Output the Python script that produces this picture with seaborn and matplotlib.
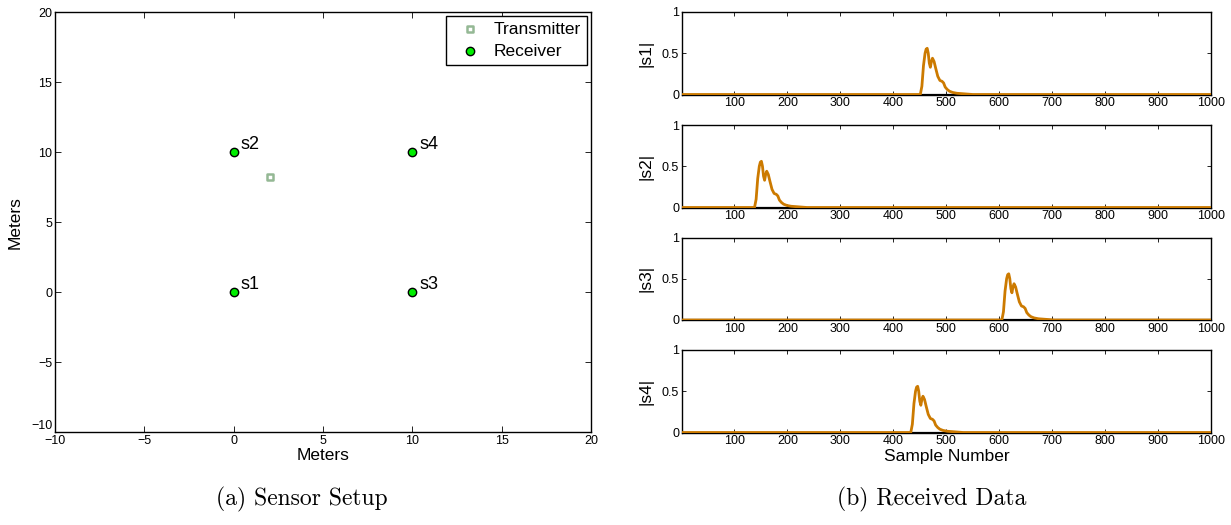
import matplotlib
matplotlib.use("Agg")
import matplotlib.pyplot as plt
import seaborn as sns
import pandas as pd

# ---- data ----
sensor_names = ["s1", "s2", "s3", "s4"]
sensor_x = [0, 0, 10, 10]
sensor_y = [0, 10, 0, 10]
tx_x = [2.05]
tx_y = [8.2]

s1_samples = [1, 451, 454, 457, 460, 462, 464, 466, 468, 470, 472, 474, 477, 480, 484, 488, 492, 495, 498, 502, 506, 512, 520, 530, 540, 550, 1000]
s1_values = [0, 0, 0.10, 0.35, 0.50, 0.55, 0.56, 0.50, 0.38, 0.33, 0.40, 0.44, 0.40, 0.32, 0.22, 0.17, 0.16, 0.14, 0.09, 0.06, 0.04, 0.025, 0.015, 0.01, 0.005, 0, 0]
s2_samples = [1, 138, 141, 144, 147, 149, 151, 153, 155, 157, 159, 161, 164, 167, 171, 175, 179, 182, 185, 189, 193, 199, 207, 217, 227, 237, 1000]
s2_values = [0, 0, 0.10, 0.35, 0.50, 0.55, 0.56, 0.50, 0.38, 0.33, 0.40, 0.44, 0.40, 0.32, 0.22, 0.17, 0.16, 0.14, 0.09, 0.06, 0.04, 0.025, 0.015, 0.01, 0.005, 0, 0]
s3_samples = [1, 605, 608, 611, 614, 616, 618, 620, 622, 624, 626, 628, 631, 634, 638, 642, 646, 649, 652, 656, 660, 666, 674, 684, 694, 704, 1000]
s3_values = [0, 0, 0.10, 0.35, 0.50, 0.55, 0.56, 0.50, 0.38, 0.33, 0.40, 0.44, 0.40, 0.32, 0.22, 0.17, 0.16, 0.14, 0.09, 0.06, 0.04, 0.025, 0.015, 0.01, 0.005, 0, 0]
s4_samples = [1, 433, 436, 439, 442, 444, 446, 448, 450, 452, 454, 456, 459, 462, 466, 470, 474, 477, 480, 484, 488, 494, 502, 512, 522, 532, 1000]
s4_values = [0, 0, 0.10, 0.35, 0.50, 0.55, 0.56, 0.50, 0.38, 0.33, 0.40, 0.44, 0.40, 0.32, 0.22, 0.17, 0.16, 0.14, 0.09, 0.06, 0.04, 0.025, 0.015, 0.01, 0.005, 0, 0]
baseline_samples = [1, 1000]
baseline_values = [0, 0]

x_ticks_left = [-10, -5, 0, 5, 10, 15, 20]
y_ticks_left = [-10, -5, 0, 5, 10, 15, 20]
tick_labels_left = ["\u221210", "\u22125", "0", "5", "10", "15", "20"]
x_ticks_right = [100, 200, 300, 400, 500, 600, 700, 800, 900, 1000]
y_ticks_right = [0, 0.5, 1]
y_tick_labels_right = ["0", "0.5", "1"]

# ---- style ----
sns.set_theme(style="ticks")
plt.rcParams["font.family"] = ["Liberation Sans", "DejaVu Sans"]
plt.rcParams.update({
    "xtick.direction": "in", "ytick.direction": "in",
    "xtick.top": True, "ytick.right": True,
    "xtick.major.size": 4, "ytick.major.size": 4,
    "xtick.major.width": 0.6, "ytick.major.width": 0.6,
    "axes.linewidth": 1.0, "axes.edgecolor": "black",
    "axes.labelcolor": "black", "text.color": "black",
    "xtick.labelsize": 9, "ytick.labelsize": 9,
    "xtick.color": "black", "ytick.color": "black",
})

fig = plt.figure(figsize=(12.31, 5.25), dpi=100)

# ---- left panel ----
axL = fig.add_axes([0.0447, 0.177, 0.4353, 0.800])
tx_df = pd.DataFrame({"x": tx_x, "y": tx_y})
rx_df = pd.DataFrame({"x": sensor_x, "y": sensor_y, "name": sensor_names})
sns.scatterplot(data=tx_df, x="x", y="y", ax=axL, marker="s", s=24,
                facecolor="white", edgecolor="#94b894", linewidth=1.8,
                label="Transmitter", zorder=3)
sns.scatterplot(data=rx_df, x="x", y="y", ax=axL, marker="o", s=36,
                color="#00ee00", edgecolor="black", linewidth=1.0,
                label="Receiver", zorder=3)
for nx, ny, nm in zip(sensor_x, sensor_y, sensor_names):
    axL.annotate(nm, (nx, ny), xytext=(5, 2), textcoords="offset points",
                 fontsize=13, color="black")
axL.set_xlim(-10, 20)
axL.set_ylim(-10, 20)
axL.set_xticks(x_ticks_left)
axL.set_yticks(y_ticks_left)
axL.set_xticklabels(tick_labels_left)
axL.set_yticklabels(tick_labels_left)
axL.get_yticklabels()[0].set_verticalalignment("bottom")
axL.tick_params(pad=2)
axL.set_xlabel("Meters", fontsize=12.5, labelpad=1)
axL.set_ylabel("Meters", fontsize=12.5, labelpad=6)
leg = axL.legend(loc="upper right", fontsize=12.5, frameon=True, fancybox=False,
                 edgecolor="black", framealpha=1, borderaxespad=0.2,
                 handletextpad=0.4, borderpad=0.35, labelspacing=0.4,
                 handlelength=2.0)
leg.get_frame().set_linewidth(1.0)

# ---- right panels ----
series = [(s1_samples, s1_values), (s2_samples, s2_values),
          (s3_samples, s3_values), (s4_samples, s4_values)]
tops = [12, 125, 237.5, 350]
height_px = 82.5
for i, (smp, val) in enumerate(series):
    bottom = (525 - tops[i] - height_px) / 525
    ax = fig.add_axes([0.554, bottom, 0.4298, height_px / 525])
    sns.lineplot(x=baseline_samples, y=baseline_values, ax=ax, color="black",
                 linewidth=1.6, zorder=2)
    sns.lineplot(x=smp, y=val, ax=ax, color="#cc7a00", linewidth=2.0, zorder=3)
    ax.set_xlim(1, 1000)
    ax.set_ylim(0, 1)
    ax.set_xticks(x_ticks_right)
    ax.set_yticks(y_ticks_right)
    ax.set_yticklabels(y_tick_labels_right)
    ax.tick_params(pad=2, length=3)
    ax.set_ylabel(f"|{sensor_names[i]}|", fontsize=12.5, labelpad=6)
    if i == 3:
        ax.set_xlabel("Sample Number", fontsize=12.5, labelpad=1)
    else:
        ax.set_xlabel("")

# ---- captions ----
fig.text(0.2455, 0.048, "(a) Sensor Setup", ha="center", va="center",
         fontsize=17, family=["cmr10", "DejaVu Serif"])
fig.text(0.757, 0.048, "(b) Received Data", ha="center", va="center",
         fontsize=17, family=["cmr10", "DejaVu Serif"])

fig.savefig("out.png", dpi=100)
